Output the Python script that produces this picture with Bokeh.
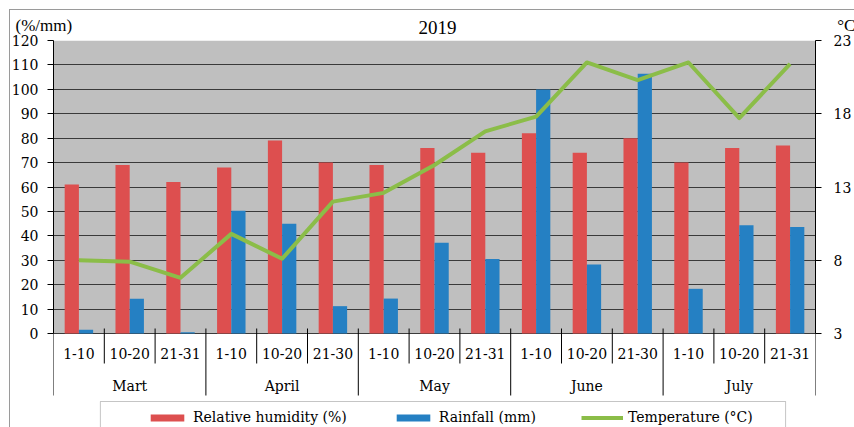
import numpy as np
from bokeh.plotting import figure
from bokeh.models import (Range1d, LinearAxis, FixedTicker, Legend, LegendItem,
                          Label, BoxAnnotation)
from bokeh.core.properties import value
from bokeh.embed import file_html
from bokeh.resources import INLINE

# ten-day periods, grouped by month
months = ["Mart", "April", "May", "June", "July"]
periods = ["1-10", "10-20", "21-31",
           "1-10", "10-20", "21-30",
           "1-10", "10-20", "21-31",
           "1-10", "10-20", "21-30",
           "1-10", "10-20", "21-31"]
humidity = [61, 69, 62, 68, 79, 70, 69, 76, 74, 82, 74, 80, 70, 76, 77]
rainfall = [1.5, 14.2, 0.5, 50.3, 45.0, 11.2, 14.3, 37.2, 30.5,
            99.9, 28.3, 106.4, 18.3, 44.3, 43.6]
temperature = [8.0, 7.9, 6.8, 9.8, 8.1, 12.0, 12.6, 14.5, 16.8,
               17.8, 21.5, 20.3, 21.5, 17.7, 21.4]
left_ticks = list(range(0, 121, 10))
right_ticks = [3, 8, 13, 18, 23]

# page geometry (pixels)
W, H = 854, 427
FL, FR, FT = 53, 817, 40          # frame left / right / top
Y0 = 333                          # pixel row of the zero line
n = len(periods)
upp = 120 / (Y0 - FT)             # left-axis units per pixel
ymin = -(H - Y0) * upp
tmin = 3 + ymin * 20 / 120


def dx(px):
    return (px - FL) * n / (FR - FL)


def dy(py):
    return (Y0 - py) * upp


HEAD_FONT = "Liberation Serif"
FONT = "DejaVu Serif"
FS = "14px"
RED, BLUE, GREEN = "#DD4F4F", "#2580C3", "#8BBD48"

# thin grey chart-area border along the top and left edges
border_css = (":host::after { content: ''; position: absolute; left: 9px; "
              "top: 9px; right: 0; bottom: 0; border-left: 1px solid #9a9a9a; "
              "border-top: 1px solid #9a9a9a; pointer-events: none; }")

p = figure(width=W, height=H, x_range=Range1d(0, n), y_range=Range1d(ymin, 120),
           output_backend="svg", toolbar_location=None, x_axis_location=None,
           min_border_left=FL, min_border_right=W - FR, min_border_top=FT,
           min_border_bottom=0, outline_line_color=None,
           background_fill_color="white", border_fill_color="white",
           stylesheets=[border_css])

# grey plotting area behind everything
p.quad(left=0, right=n, bottom=0, top=120, fill_color="#BFBFBF",
       line_color=None, level="image")

p.xgrid.visible = False
p.ygrid.ticker = FixedTicker(ticks=left_ticks)
p.ygrid.grid_line_color = "#3a3a3a"
p.ygrid.grid_line_width = 1


def style_axis(ax, standoff):
    ax.major_tick_out = 6
    ax.major_tick_in = 0
    ax.minor_tick_out = 0
    ax.minor_tick_in = 0
    ax.axis_line_color = "black"
    ax.major_tick_line_color = "black"
    ax.major_label_text_font = FONT
    ax.major_label_text_font_size = FS
    ax.major_label_text_color = "black"
    ax.major_label_standoff = standoff


lax = p.yaxis[0]
lax.ticker = FixedTicker(ticks=left_ticks)
lax.bounds = (0, 120)
style_axis(lax, 9)

p.extra_y_ranges = {"temp": Range1d(tmin, 23)}
rax = LinearAxis(y_range_name="temp", ticker=FixedTicker(ticks=right_ticks),
                 bounds=(3, 23))
style_axis(rax, 12)
p.add_layout(rax, "right")

idx = np.arange(n)
bw = 0.28
r_h = p.vbar(x=idx + 0.5 - bw / 2, top=humidity, width=bw, fill_color=RED,
             line_color=None)
r_r = p.vbar(x=idx + 0.5 + bw / 2, top=rainfall, width=bw, fill_color=BLUE,
             line_color=None)
r_t = p.line(x=idx + 0.5, y=temperature, y_range_name="temp",
             line_color=GREEN, line_width=4, line_join="round")

# two-level category axis: period dividers and month dividers
bx = np.arange(n + 1)
btm = [dy(395) if k % 3 == 0 else dy(363) for k in bx]
p.segment(x0=bx, x1=bx, y0=dy(328), y1=btm, line_color="black", line_width=1)
p.text(x=idx + 0.5, y=dy(353), text=periods, text_align="center",
       text_baseline="middle", text_font=value(FONT),
       text_font_size=FS, text_color="black")
p.text(x=np.arange(len(months)) * 3 + 1.5, y=dy(385), text=months,
       text_align="center", text_baseline="middle",
       text_font=value(FONT), text_font_size=FS, text_color="black")

# heading row: chart year plus the two unit captions
p.add_layout(Label(x=437, y=27, x_units="canvas", y_units="canvas",
                   text="2019", text_align="center", text_baseline="middle",
                   text_font=HEAD_FONT, text_font_size="19px",
                   text_color="black"), "above")
units = "(%/mm)" + "\u00a0" * 180 + "°C"
p.add_layout(Label(x=15, y=25, x_units="canvas", y_units="canvas",
                   text=units, text_align="left", text_baseline="middle",
                   text_font=HEAD_FONT, text_font_size="17px",
                   text_color="black"), "above")

# legend frame
p.add_layout(BoxAnnotation(left=dx(100), right=dx(787), top=dy(401),
                           bottom=ymin - 20, fill_color=None,
                           line_color="#404040", line_width=1))

legend = Legend(items=[LegendItem(label="Relative humidity (%)", renderers=[r_h]),
                       LegendItem(label="Rainfall (mm)", renderers=[r_r]),
                       LegendItem(label="Temperature (°C)", renderers=[r_t])],
                orientation="horizontal", location=(93, 2), glyph_width=42,
                glyph_height=9, label_standoff=5, spacing=45, padding=0,
                margin=0, border_line_color=None, background_fill_alpha=0,
                label_text_font=FONT, label_text_font_size=FS,
                label_text_color="black")
p.add_layout(legend)

open("out.html", "w").write(file_html(p, INLINE))
